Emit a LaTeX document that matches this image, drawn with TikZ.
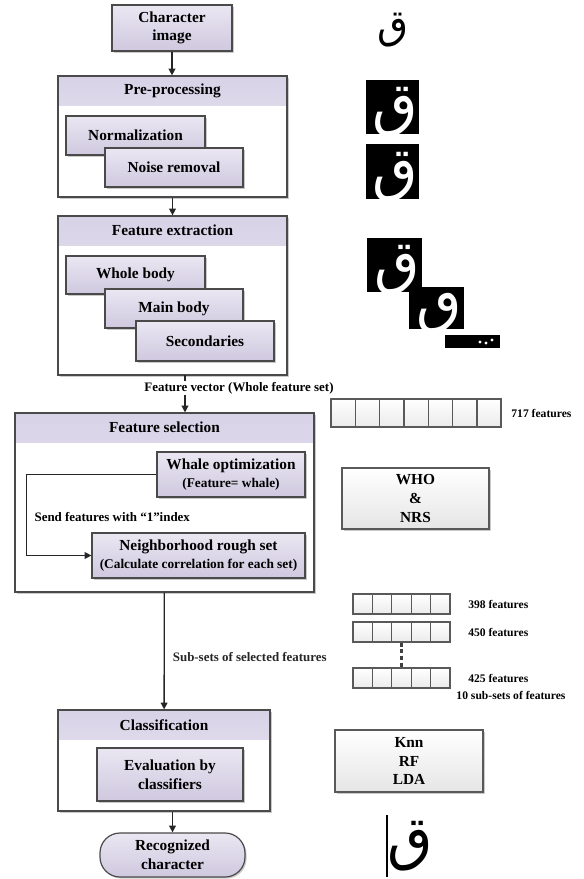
\documentclass[tikz,border=0pt]{standalone}
\usepackage{fontspec}
\setmainfont{Liberation Serif}
\newfontfamily\arabicfont[Script=Arabic]{DejaVu Sans}
\TeXXeTstate=1
\usetikzlibrary{arrows.meta,shadows,positioning}

\definecolor{lavtop}{HTML}{EAE7F2}
\definecolor{lavbot}{HTML}{CFC8DF}
\definecolor{bandtop}{HTML}{D8D2E7}
\definecolor{bandbot}{HTML}{EEEBF4}
\definecolor{edge}{HTML}{4A4A4A}

\tikzset{
  size/.style 2 args={minimum width=#1*0.75pt, minimum height=#2*0.75pt},
  shade off/.style={drop shadow={shadow xshift=1.2pt, shadow yshift=-1.2pt, opacity=0.35, fill=black!60}},
  box/.style={draw=edge, line width=0.9pt, top color=lavtop, bottom color=lavbot, shade off,
    inner sep=0pt, align=center, font=\bfseries\fontsize{11.5}{14}\selectfont},
  band title/.style={anchor=north, minimum height=22.5pt, inner sep=0pt,
    font=\bfseries\fontsize{11.5}{14}\selectfont},
  group/.style={draw=edge, line width=0.9pt, fill=white, shade off, inner sep=0pt,
    path picture={\shade[top color=bandtop, bottom color=bandbot]
      (path picture bounding box.north west) rectangle ([yshift=-21.75pt]path picture bounding box.north east);},
    label={[band title]north:#1}},
  graybox/.style={draw=black!65, line width=1.3pt, top color=white, bottom color=black!10, shade off,
    inner sep=0pt, align=center, font=\bfseries\fontsize{11.5}{14}\selectfont},
  cell/.style={draw=black!65, line width=1pt, top color=white, bottom color=black!8, inner sep=0pt},
  lab/.style={font=\bfseries\fontsize{9.7}{11}\selectfont, inner sep=1pt},
  note/.style={font=\bfseries\fontsize{8.7}{10}\selectfont, inner sep=0pt},
  glyphbox/.style={fill=black, inner sep=0pt,
    path picture={\node[text=white, font=\arabicfont\fontsize{44}{44}\selectfont]
      at ([xshift=2pt,yshift=-4pt]path picture bounding box.center) {#1};}},
  flow/.style={->, line width=1pt, black!85}
}

\begin{document}
\begin{tikzpicture}[x=0.75pt, y=-0.75pt, >={Triangle[length=5pt,width=5pt]}]
\useasboundingbox (0,0) rectangle (583,879);

% left column
\node[box, size={120}{46}] (img) at (172,28) {Character\\image};

\node[group=Pre-processing, size={229}{121}] (pre) at (172.5,136.5) {};
\node[box, size={139}{39}] (norm) at (135.5,135.5) {Normalization};
\node[box, size={138}{39}] (noise) at (174,167.5) {Noise removal};

\node[group=Feature extraction, size={229}{159}] (fe) at (172.5,295.5) {};
\node[box, size={139}{38}] (whole) at (135.5,275) {Whole body};
\node[box, size={138}{39}] (mainb) at (174,308.5) {Main body};
\node[box, size={138}{40}] (sec) at (205,341) {Secondaries};

\node[group=Feature selection, size={299}{179}] (fs) at (164.5,502.5) {};
\node[box, size={148}{45}] (who) at (231,474.5) {Whale optimization\\[-1pt]{\fontsize{10}{12}\selectfont (Feature= whale)}};
\node[box, size={213}{45}] (nrs) at (198.5,555.5) {Neighborhood rough set\\[-1pt]{\fontsize{10}{12}\selectfont (Calculate correlation for each set)}};
\node[lab, anchor=west] (send) at (33,517) {Send features with “1”index};

\node[group=Classification, size={212}{101}] (cls) at (164,760.5) {};
\node[box, size={146}{53}] (eval) at (170,774.5) {Evaluation by\\classifiers};

\node[box, size={145}{44}, rounded corners=15pt] (rec) at (172.5,855) {Recognized\\character};

% connectors
\draw[flow] (img) -- (img |- pre.north);
\draw[flow] (pre) -- (fe);
\coordinate (fv) at (185,375);
\draw[flow] (fv) -- (fv |- fs.north);
\node[lab, fill=white] (fvtext) at (239,388) {Feature vector (Whole feature set)};
\draw[flow] (who.west) -- ++(-130,0) |- (nrs.west);
\draw[flow] (fs) -- (cls) node[lab, pos=0.55, right=5pt] (subtext) {Sub-sets of selected features};
\draw[flow] (cls.south -| rec.north) -- (rec.north);

% right column
\node[font=\arabicfont\fontsize{30}{30}\selectfont] (g0) at (393,30) {\beginR ق\endR};
\node[glyphbox=ق, size={53}{54}] (g1) at (392.5,107) {};
\node[glyphbox=ق, size={53}{55}] (g2) at (392.5,171.5) {};

\node[glyphbox=ق, size={55}{54}] (g3) at (394.5,265) {};
\node[glyphbox=ٯ, size={55}{42}] (g4) at (436.5,308) {};
\node[fill=black, inner sep=0pt, size={55}{13}] (g5) at (472.5,341.5) {};
\foreach \dx/\dy in {480/342, 486/343, 492/340}
  \fill[white] (\dx,\dy) circle (1.3pt);

\foreach \i in {0,...,6}
  \node[cell, size={24.3}{28}] (v\i) at ({343.2+24.3*\i},413) {};
\node[note, right=7pt of v6] (n717) {717 features};

\node[graybox, size={147}{61}] (whonrs) at (415.5,498.5) {WHO\\\&\\NRS};

\foreach \r/\y in {a/604, b/632, c/678}
  \foreach \i in {0,...,4}
    \node[cell, size={19.4}{20}] (\r\i) at ({362.7+19.4*\i},\y) {};
\draw[line width=1.6pt, black!75, dash pattern=on 3pt off 2pt] (b2.south) -- (c2.north);
\node[note, right=13pt of a4] (n398) {398 features};
\node[note, right=13pt of b4] (n450) {450 features};
\node[note, right=13pt of c4] (n425) {425 features};
\node[note] (nsub) at (511,695) {10 sub-sets of features};

\node[graybox, size={148}{62}] (clf) at (409,761) {Knn\\RF\\LDA};

\node[font=\arabicfont\fontsize{44}{44}\selectfont] (gfin) at (410,846) {\beginR ق\endR};
\draw[line width=0.9pt] (387,815) -- (387,877);
\end{tikzpicture}
\end{document}
